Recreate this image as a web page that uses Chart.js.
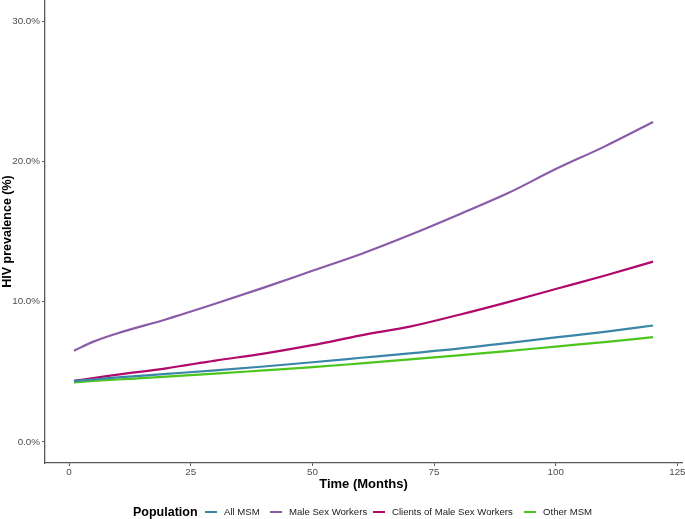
<!DOCTYPE html>
<html>
<head>
<meta charset="utf-8">
<script src="https://cdn.jsdelivr.net/npm/chart.js@4.4.0/dist/chart.umd.min.js"></script>
<style>
  html, body { margin: 0; padding: 0; background: #fff; }
  #wrap { position: relative; width: 685px; height: 519px; font-family: "Liberation Sans", Arial, sans-serif; }
  canvas { position: absolute; left: 0; top: 0; }
  .leg { position: absolute; top: 504px; height: 16px; line-height: 16px; white-space: nowrap; }
  .title { font-weight: bold; font-size: 12.5px; color: #000; }
  .item { font-size: 9.6px; color: #1a1a1a; }
  .key { position: absolute; top: 7px; width: 12px; height: 2px; }
</style>
</head>
<body>
<div id="wrap">
  <canvas id="c" width="685" height="519"></canvas>
  <div id="legend"></div>
</div>
<script>
// ---- data ----
const months = [1, 5, 10, 20, 30, 40, 50, 60, 70, 80, 90, 100, 110, 120];
const allMSM = [4.35, 4.45, 4.60, 4.85, 5.10, 5.38, 5.68, 6.00, 6.32, 6.65, 7.05, 7.45, 7.85, 8.30];
const maleSexWorkers = [6.50, 7.15, 7.75, 8.75, 9.85, 11.00, 12.20, 13.40, 14.75, 16.20, 17.70, 19.45, 21.05, 22.80];
const clientsMSW = [4.35, 4.55, 4.80, 5.25, 5.80, 6.30, 6.90, 7.60, 8.22, 9.05, 9.95, 10.90, 11.85, 12.85];
const otherMSM = [4.25, 4.35, 4.45, 4.65, 4.87, 5.10, 5.33, 5.60, 5.88, 6.17, 6.47, 6.80, 7.12, 7.47];
const seriesNames = ["All MSM", "Male Sex Workers", "Clients of Male Sex Workers", "Other MSM"];
const seriesColors = ["#3a86a8", "#8a5ca8", "#b0086b", "#4cc51c"];
const xTicks = [0, 25, 50, 75, 100, 125];
const yTicks = [0, 10, 20, 30];
const xTitle = "Time (Months)";
const yTitle = "HIV prevalence (%)";
const legendTitle = "Population";

const seriesValues = [allMSM, maleSexWorkers, clientsMSW, otherMSM];
const datasets = seriesValues.map((vals, i) => ({
  label: seriesNames[i],
  data: months.map((m, j) => ({ x: m, y: vals[j] })),
  borderColor: seriesColors[i],
  backgroundColor: seriesColors[i],
  borderWidth: 2.2,
  pointRadius: 0,
  fill: false,
  cubicInterpolationMode: 'monotone'
}));

const axisColor = '#5a5a5a';
const tickColor = '#4d4d4d';

new Chart(document.getElementById('c'), {
  type: 'line',
  data: { datasets },
  options: {
    responsive: false,
    animation: false,
    layout: { padding: { left: 0, right: 3, top: 0, bottom: 20 } },
    plugins: { legend: { display: false }, tooltip: { enabled: false } },
    scales: {
      x: {
        type: 'linear',
        min: -4.95, max: 125.95,
        afterBuildTicks: s => { s.ticks = xTicks.map(v => ({ value: v })); },
        afterFit: s => { s.height = 36; s.paddingLeft = 0; s.paddingRight = 0; },
        grid: { drawOnChartArea: false, drawTicks: true, tickLength: 3, color: axisColor, lineWidth: 1 },
        border: { display: true, color: axisColor, width: 1.3 },
        ticks: { color: tickColor, font: { family: 'Liberation Sans', size: 9.8 }, padding: 0, maxRotation: 0, autoSkip: false },
        title: { display: true, text: xTitle, color: '#000', font: { family: 'Liberation Sans', size: 13, weight: 'bold' }, padding: { top: 0, bottom: 7 } }
      },
      y: {
        type: 'linear',
        min: -1.5, max: 31.5,
        afterBuildTicks: s => { s.ticks = yTicks.map(v => ({ value: v })); },
        afterFit: s => { s.width = 45; s.paddingTop = 0; s.paddingBottom = 0; },
        grid: { drawOnChartArea: false, drawTicks: true, tickLength: 3, color: axisColor, lineWidth: 1 },
        border: { display: true, color: axisColor, width: 1.3 },
        ticks: { color: tickColor, font: { family: 'Liberation Sans', size: 9.8 }, padding: 2, callback: v => v.toFixed(1) + '%' },
        title: { display: true, text: yTitle, color: '#000', font: { family: 'Liberation Sans', size: 12.5, weight: 'bold' }, padding: { top: 0, bottom: 0 } }
      }
    }
  }
});

// ---- HTML legend ----
const leg = document.getElementById('legend');
const t = document.createElement('div');
t.className = 'leg title';
t.style.left = '133px';
t.textContent = legendTitle;
leg.appendChild(t);
const keyLefts = [205, 270, 373, 524];
seriesNames.forEach((name, i) => {
  const d = document.createElement('div');
  d.className = 'leg item';
  d.style.left = keyLefts[i] + 'px';
  d.style.paddingLeft = '19px';
  const k = document.createElement('span');
  k.className = 'key';
  k.style.left = '0px';
  k.style.background = seriesColors[i];
  d.appendChild(k);
  d.appendChild(document.createTextNode(name));
  leg.appendChild(d);
});
</script>
</body>
</html>
